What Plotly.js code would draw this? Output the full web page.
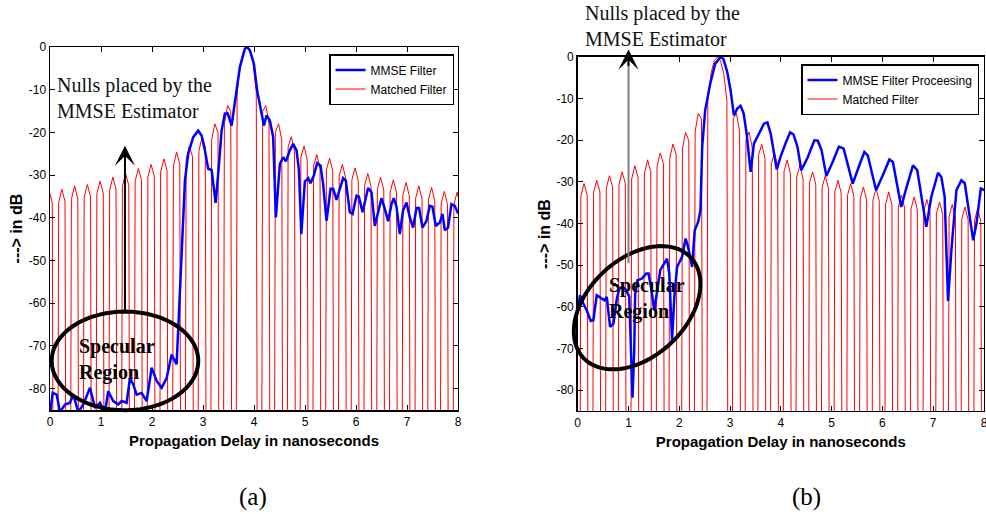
<!DOCTYPE html>
<html>
<head>
<meta charset="utf-8">
<script src="https://cdn.plot.ly/plotly-3.0.1.min.js"></script>
<style>
  html, body { margin: 0; padding: 0; background: #ffffff; }
  #chart { width: 986px; height: 514px; }
</style>
</head>
<body>
<div id="chart"></div>
<script>
// ---------- axis ticks ----------
const delayTicks = [0, 1, 2, 3, 4, 5, 6, 7, 8];
const delayTickLabels = ['0', '1', '2', '3', '4', '5', '6', '7', '8'];
const dbTicks = [0, -10, -20, -30, -40, -50, -60, -70, -80];
const dbTickLabels = ['0', '-10', '-20', '-30', '-40', '-50', '-60', '-70', '-80'];

// ---------- matched filter (sampled response) ----------
const mfSampleStepNs = 0.0625;   // sample spacing of the matched filter output
const mfNullFloorDb = -300;      // exact nulls of the response
const mfMainLobeDb = [0, -0.9, -3.9, -10.5];   // main lobe samples, centre outwards

// panel (a): sidelobes as [inner edge, peak, outer edge] in dB, nearest lobe first
const aMfPeakNs = 3.857;
const aMfLobesLeft = [
  [-15.1, -13.7, -18.0], [-20.0, -18.0, -21.8], [-23.4, -21.0, -24.4], [-25.7, -23.1, -26.4],
  [-27.4, -24.6, -27.9], [-28.9, -26.2, -29.3], [-30.2, -27.5, -30.5], [-31.2, -28.4, -31.5],
  [-32.4, -29.6, -32.6], [-33.3, -30.5, -33.5], [-34.2, -31.4, -34.4], [-35.0, -32.2, -35.2],
  [-35.5, -32.5, -35.7], [-36.2, -33.3, -36.4], [-36.5, -33.6, -36.7]
];
const aMfLobesRight = [
  [-15.1, -13.7, -18.0], [-20.0, -18.0, -21.8], [-23.4, -21.0, -24.4], [-25.8, -23.2, -26.5],
  [-27.8, -25.2, -28.4], [-28.8, -26.0, -29.2], [-30.2, -27.5, -30.5], [-31.1, -28.3, -31.4],
  [-32.4, -29.6, -32.6], [-33.3, -30.5, -33.5], [-34.0, -31.1, -34.2], [-34.6, -31.7, -34.8],
  [-35.4, -32.5, -35.6], [-35.8, -32.9, -36.0], [-36.7, -33.8, -36.9], [-36.9, -34.0, -37.1]
];

// panel (b)
const bMfPeakNs = 2.75;
const bMfLobesLeft = [
  [-14.9, -13.5, -17.8], [-20.1, -18.1, -21.9], [-23.3, -20.9, -24.3], [-25.6, -23.0, -26.3],
  [-27.5, -24.7, -28.1], [-28.8, -26.1, -29.3], [-30.3, -27.6, -30.6], [-31.3, -28.5, -31.6],
  [-32.4, -29.6, -32.6], [-33.2, -30.4, -33.4]
];
const bMfLobesRight = [
  [-14.9, -13.5, -17.8], [-20.0, -18.0, -21.8], [-23.4, -21.0, -24.4], [-25.6, -23.0, -26.3],
  [-27.5, -24.7, -28.1], [-28.8, -26.1, -29.3], [-30.3, -27.6, -30.6], [-31.3, -28.5, -31.6],
  [-32.4, -29.6, -32.6], [-33.2, -30.4, -33.4], [-34.0, -31.2, -34.2], [-34.4, -31.6, -34.6],
  [-35.3, -32.4, -35.5], [-36.1, -33.2, -36.3], [-36.5, -33.6, -36.7], [-37.1, -34.2, -37.3],
  [-37.7, -34.8, -37.9], [-38.3, -35.4, -38.5], [-38.9, -36.0, -39.1], [-39.3, -36.4, -39.5]
];

// ---------- MMSE filter output ----------
const aMmseNs = [0.00,0.053,0.131,0.196,0.294,0.392,0.457,0.555,0.653,0.784,0.882,0.980,1.078,1.142,1.240,1.338,1.405,1.503,1.568,1.632,1.699,1.797,1.895,1.993,2.091,2.189,2.287,2.385,2.483,2.542,2.581,2.646,2.710,2.808,2.906,2.973,3.037,3.102,3.169,3.247,3.298,3.365,3.429,3.482,3.561,3.645,3.723,3.821,3.866,3.919,3.998,4.062,4.135,4.194,4.247,4.311,4.376,4.429,4.507,4.572,4.625,4.703,4.768,4.834,4.880,4.928,4.997,5.062,5.109,5.173,5.238,5.305,5.356,5.422,5.501,5.552,5.618,5.683,5.748,5.800,5.879,5.932,6.010,6.055,6.128,6.237,6.304,6.369,6.434,6.500,6.565,6.630,6.696,6.741,6.794,6.859,6.923,6.990,7.055,7.120,7.186,7.237,7.304,7.382,7.447,7.500,7.564,7.643,7.696,7.741,7.805,7.872,7.937,8.002];
const aMmseDb = [-86,-81,-81.4,-85.5,-83.7,-83.3,-81.4,-85.5,-83.7,-79.8,-84.5,-83.3,-85.5,-80.6,-82.9,-83.7,-82.9,-83.3,-77.5,-79,-81.4,-81,-82.9,-75.1,-78.2,-79.8,-77.5,-72,-74.3,-59,-45.4,-31.3,-25,-21.1,-19.6,-20.7,-24.2,-28.5,-28.8,-36.5,-29.7,-19.6,-15.6,-15.5,-18.4,-11.3,-4.7,-0.4,0,-0.8,-3.9,-10.2,-14.9,-18.4,-16,-17.2,-21.1,-39.9,-27.4,-25.8,-26.8,-24.2,-22.7,-24.2,-28.7,-43.8,-31.5,-30.7,-31.9,-30.1,-27.2,-27.8,-32.1,-40.7,-33.2,-33.2,-35.8,-33,-30.7,-31.3,-38.7,-39.1,-34.8,-35,-38.7,-33,-34,-41.9,-38.3,-35.4,-37.9,-40.8,-36.8,-35.4,-37.4,-43.8,-38.3,-36.4,-39.9,-42.3,-37.7,-37.7,-42.3,-40.7,-37.2,-37.4,-41.9,-41.1,-39.1,-42.9,-42.3,-36.8,-37.2,-39];

const bMmseNs = [0.000,0.045,0.111,0.184,0.257,0.308,0.375,0.474,0.526,0.573,0.638,0.704,0.771,0.822,0.889,0.955,1.014,1.079,1.113,1.132,1.178,1.265,1.350,1.395,1.443,1.508,1.561,1.626,1.759,1.804,1.858,1.903,1.957,2.055,2.126,2.174,2.253,2.304,2.372,2.417,2.451,2.510,2.609,2.708,2.806,2.866,2.945,3.010,3.076,3.142,3.207,3.267,3.326,3.405,3.470,3.569,3.668,3.735,3.800,3.919,3.998,4.097,4.182,4.249,4.328,4.403,4.526,4.660,4.729,4.802,4.897,5.020,5.144,5.237,5.415,5.545,5.644,5.711,5.875,6.008,6.138,6.206,6.370,6.468,6.601,6.686,6.864,6.962,7.095,7.160,7.225,7.292,7.358,7.457,7.555,7.621,7.688,7.787,7.852,7.937,8.016];
const bMmseDb = [-60.8,-57.2,-59.2,-61,-63.4,-63.2,-57.2,-58,-58.4,-57.6,-64.8,-64,-58,-55.6,-55.2,-56,-57.5,-81.8,-70.4,-56.8,-53.6,-53.2,-52,-52,-55.2,-60.8,-56.4,-51.2,-48.4,-52,-68,-57.6,-50.4,-48,-43.6,-45.6,-50.4,-41.6,-39.6,-36.8,-21.6,-12.8,-6.4,-1.6,-0.1,-0.4,-3.6,-8,-14,-12.4,-11.7,-13.5,-18.4,-27.6,-20.8,-18.4,-16,-15.7,-18.4,-27,-23.8,-20.6,-18.1,-18.6,-21.6,-27.2,-24.2,-20,-20.1,-22.4,-28.6,-25.2,-21.5,-22,-30.4,-26,-22.8,-23.6,-32,-28.4,-24.6,-25.2,-36,-31.6,-26,-27.2,-40.8,-33.6,-27.8,-28.8,-33.5,-58.6,-46.4,-32,-29.6,-30.3,-36,-44,-40,-31.6,-32];

// ---------- build the matched filter sample sequence ----------
function matchedSamples(peakNs, lobesLeft, lobesRight) {
  const x = [], y = [];
  const nLeft = lobesLeft.length * 4 + 4;
  const nRight = lobesRight.length * 4 + 4;
  for (let n = -nLeft; n <= nRight; n++) {
    const m = Math.abs(n);
    const lobes = n < 0 ? lobesLeft : lobesRight;
    let v;
    if (m < 4) v = mfMainLobeDb[m];
    else if (m % 4 === 0) v = mfNullFloorDb;
    else v = lobes[Math.floor(m / 4) - 1][(m % 4) - 1];
    x.push(peakNs + n * mfSampleStepNs);
    y.push(v);
  }
  return { x, y };
}

const aMf = matchedSamples(aMfPeakNs, aMfLobesLeft, aMfLobesRight);
const bMf = matchedSamples(bMfPeakNs, bMfLobesLeft, bMfLobesRight);

// ---------- page geometry ----------
const FIG_W = 986, FIG_H = 514;
const panelA = { xDom: [0.05071, 0.46450], yDom: [0.20233, 0.90856], xRange: [0, 8], yRange: [-85, 0] };
const panelB = { xDom: [0.58590, 0.99797], yDom: [0.20039, 0.88911], xRange: [0, 8], yRange: [-85, 0] };

const tickFont = { family: 'Arial, "Liberation Sans", sans-serif', size: 12, color: '#000' };
const xTitleFont = { family: 'Arial, "Liberation Sans", sans-serif', size: 15, color: '#000', weight: 'bold' };
const yTitleFont = { family: 'Arial, "Liberation Sans", sans-serif', size: 16, color: '#000', weight: 'bold' };
const serif = '"Times New Roman", "Liberation Serif", serif';

function xAxis(p, anchor) {
  return {
    domain: p.xDom, anchor: anchor, range: p.xRange,
    tickvals: delayTicks, ticktext: delayTickLabels, ticklabeloverflow: 'allow',
    ticks: 'inside', ticklen: 5, tickwidth: 1, tickcolor: '#000',
    showline: true, linecolor: '#000', linewidth: 1.5, mirror: 'ticks',
    showgrid: false, zeroline: false, tickfont: tickFont, automargin: false, fixedrange: true,
    title: { text: 'Propagation Delay in nanoseconds', font: xTitleFont, standoff: 7 }
  };
}
function yAxis(p, anchor) {
  return {
    domain: p.yDom, anchor: anchor, range: p.yRange,
    tickvals: dbTicks, ticktext: dbTickLabels,
    ticks: 'inside', ticklen: 5, tickwidth: 1, tickcolor: '#000',
    showline: true, linecolor: '#000', linewidth: 1.5, mirror: 'ticks',
    showgrid: false, zeroline: false, tickfont: tickFont, automargin: false, fixedrange: true,
    title: { text: '---&gt; in dB', font: yTitleFont, standoff: 2 }
  };
}

function toPaper(p, xv, yv) {
  return [
    p.xDom[0] + (xv - p.xRange[0]) / (p.xRange[1] - p.xRange[0]) * (p.xDom[1] - p.xDom[0]),
    p.yDom[0] + (yv - p.yRange[0]) / (p.yRange[1] - p.yRange[0]) * (p.yDom[1] - p.yDom[0])
  ];
}
// ellipse outline around a region of a panel; radii in pixels, tilt counter-clockwise
function ellipsePath(p, cx, cy, rxPx, ryPx, tiltDeg) {
  const [pcx, pcy] = toPaper(p, cx, cy);
  const t = tiltDeg * Math.PI / 180;
  let d = '';
  for (let i = 0; i <= 120; i++) {
    const a = i / 120 * 2 * Math.PI;
    const ex = rxPx * Math.cos(a), ey = ryPx * Math.sin(a);
    const X = ex * Math.cos(t) - ey * Math.sin(t);
    const Y = ex * Math.sin(t) + ey * Math.cos(t);
    d += (i ? 'L' : 'M') + (pcx + X / FIG_W).toFixed(5) + ',' + (pcy + Y / FIG_H).toFixed(5);
  }
  return d + 'Z';
}

const traces = [
  { x: aMf.x, y: aMf.y, xaxis: 'x', yaxis: 'y', mode: 'lines', name: 'Matched Filter',
    line: { color: '#ff0000', width: 1 }, legend: 'legend', legendrank: 2, hoverinfo: 'skip' },
  { x: aMmseNs, y: aMmseDb, xaxis: 'x', yaxis: 'y', mode: 'lines', name: 'MMSE Filter',
    line: { color: '#0000ff', width: 2.5 }, legend: 'legend', legendrank: 1, hoverinfo: 'skip' },
  { x: bMf.x, y: bMf.y, xaxis: 'x2', yaxis: 'y2', mode: 'lines', name: 'Matched Filter',
    line: { color: '#ff0000', width: 1 }, legend: 'legend2', legendrank: 2, hoverinfo: 'skip' },
  { x: bMmseNs, y: bMmseDb, xaxis: 'x2', yaxis: 'y2', mode: 'lines', name: 'MMSE Filter Proceesing',
    line: { color: '#0000ff', width: 2.5 }, legend: 'legend2', legendrank: 1, hoverinfo: 'skip' }
];

const legendStyle = {
  xanchor: 'left', yanchor: 'top', bgcolor: '#ffffff', bordercolor: '#000', borderwidth: 1.5,
  font: { family: 'Arial, "Liberation Sans", sans-serif', size: 12, color: '#000' },
  itemwidth: 30, itemclick: false, itemdoubleclick: false
};

const bNullsPos = toPaper(panelB, 0.1, 7.4);

const annotations = [
  { xref: 'x', yref: 'y', x: 0.1, y: -12, xanchor: 'left', yanchor: 'middle', align: 'left',
    text: 'Nulls placed by the<br>MMSE Estimator', showarrow: false,
    font: { family: serif, size: 20, color: '#111' } },
  { xref: 'x', yref: 'y', x: 1.47, y: -23.1, axref: 'x', ayref: 'y', ax: 1.47, ay: -62.3,
    text: '', showarrow: true, arrowhead: 3, arrowsize: 1.7, arrowwidth: 2, arrowcolor: '#000' },
  { xref: 'x', yref: 'y', x: 0.53, y: -73.1, xanchor: 'left', yanchor: 'middle', align: 'left',
    text: '<b>Specular<br>Region</b>', showarrow: false,
    font: { family: serif, size: 20, color: '#000' } },

  { xref: 'paper', yref: 'paper', x: bNullsPos[0], y: bNullsPos[1], xanchor: 'left', yanchor: 'middle', align: 'left',
    text: 'Nulls placed by the<br>MMSE Estimator', showarrow: false,
    font: { family: serif, size: 20, color: '#111' } },
  { xref: 'x2', yref: 'y2', x: 1.0, y: 1.8, axref: 'x2', ayref: 'y2', ax: 1.0, ay: -2.5,
    text: '', showarrow: true, arrowhead: 3, arrowsize: 1.7, arrowwidth: 2, arrowcolor: '#000' },
  { xref: 'x2', yref: 'y2', x: 0.58, y: -58.1, xanchor: 'left', yanchor: 'middle', align: 'left',
    text: '<b>Specular<br>Region</b>', showarrow: false,
    font: { family: serif, size: 20, color: '#000' } },

  { xref: 'paper', yref: 'paper', x: 253 / FIG_W, y: 1 - 497 / FIG_H, xanchor: 'center', yanchor: 'middle',
    text: '(a)', showarrow: false, font: { family: serif, size: 25, color: '#000' } },
  { xref: 'paper', yref: 'paper', x: 806 / FIG_W, y: 1 - 497 / FIG_H, xanchor: 'center', yanchor: 'middle',
    text: '(b)', showarrow: false, font: { family: serif, size: 25, color: '#000' } }
];

const shapes = [
  { type: 'path', xref: 'paper', yref: 'paper', path: ellipsePath(panelA, 1.47, -73.5, 73.3, 49.3, 0),
    line: { color: '#000', width: 4 }, fillcolor: 'rgba(0,0,0,0)', layer: 'above' },
  { type: 'path', xref: 'paper', yref: 'paper', path: ellipsePath(panelB, 1.17, -60.2, 73.5, 49, 43),
    line: { color: '#000', width: 4 }, fillcolor: 'rgba(0,0,0,0)', layer: 'above' },
  { type: 'line', xref: 'x2', yref: 'y2', x0: 1.0, x1: 1.0, y0: -49.5, y1: -1,
    line: { color: '#808080', width: 2 }, layer: 'above' }
];

const layout = {
  width: FIG_W, height: FIG_H,
  margin: { l: 0, r: 0, t: 0, b: 0 },
  paper_bgcolor: '#ffffff', plot_bgcolor: '#ffffff',
  showlegend: true,
  xaxis: xAxis(panelA, 'y'), yaxis: yAxis(panelA, 'x'),
  xaxis2: xAxis(panelB, 'y2'), yaxis2: yAxis(panelB, 'x2'),
  legend: Object.assign({ x: 329 / FIG_W, y: 1 - 54 / FIG_H }, legendStyle),
  legend2: Object.assign({ x: 801 / FIG_W, y: 1 - 64 / FIG_H }, legendStyle),
  annotations: annotations,
  shapes: shapes
};

Plotly.newPlot('chart', traces, layout, { displayModeBar: false, staticPlot: true });
</script>
</body>
</html>
